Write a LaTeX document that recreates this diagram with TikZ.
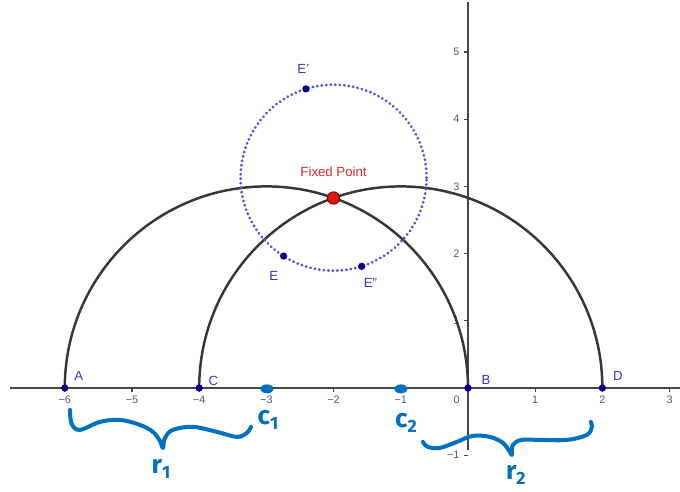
\documentclass[tikz,border=0pt]{standalone}
\usepackage{fontspec}
\usetikzlibrary{calc}
\setmainfont{Liberation Sans}
\newfontfamily\handfont{Fira Sans}
\definecolor{axisgray}{RGB}{70,70,70}
\definecolor{tickgray}{RGB}{90,90,90}
\definecolor{arcgray}{RGB}{55,55,55}
\definecolor{ptblue}{RGB}{0,0,140}
\definecolor{lblblue}{RGB}{55,55,185}
\definecolor{dotblue}{RGB}{80,80,215}
\definecolor{fixred}{RGB}{225,20,20}
\definecolor{fixedge}{RGB}{120,0,0}
\definecolor{lblred}{RGB}{215,40,40}
\definecolor{handblue}{RGB}{0,112,192}
\newcommand{\hw}[2]{{\handfont\bfseries #1\raisebox{-0.35ex}{\fontsize{7.5}{8}\selectfont #2}}}
\begin{document}
\begin{tikzpicture}[x=1cm,y=1cm,
  axisline/.style={draw=axisgray,line width=0.5pt},
  tick/.style={draw=axisgray,line width=0.45pt},
  ticklbl/.style={text=tickgray,font=\fontsize{4.6}{5}\selectfont,inner sep=0pt},
  arcline/.style={draw=arcgray,line width=1.05pt},
  pt/.style={circle,fill=ptblue,inner sep=0pt,minimum size=3.1pt},
  ptlbl/.style={text=lblblue,font=\fontsize{5.6}{6}\selectfont,inner sep=0pt},
  dotcircle/.style={draw=dotblue,line width=1.3pt,line cap=round,dash pattern=on 0.01pt off 1.9pt},
  handline/.style={draw=handblue,line width=1.7pt,line cap=round,line join=round},
  handtxt/.style={text=handblue,inner sep=0pt,font=\fontsize{11}{12}\selectfont}]
\useasboundingbox (-6.964,-1.533) rectangle (3.155,5.774);
% axes
\draw[axisline] (-6.82,0) -- (3.155,0);
\draw[axisline] (0,-0.925) -- (0,5.75);
\foreach \x in {-6,...,-1,1,2,3}{
  \draw[tick] (\x,0) -- (\x,-0.06);
}
\foreach \x/\t in {-6/−6,-5/−5,-4/−4,-3/−3,-2/−2,-1/−1,1/1,2/2,3/3}{
  \node[ticklbl] (tx\x) at (\x,-0.18) {\t};
}
\node[ticklbl] (t0) at (-0.17,-0.18) {0};
\foreach \y in {-1,1,2,3,4,5}{
  \draw[tick] (0,\y) -- (-0.06,\y);
}
\foreach \y/\t in {-1/−1,1/1,2/2,3/3,4/4,5/5}{
  \node[ticklbl,anchor=east] (ty\y) at (-0.12,\y) {\t};
}
% semicircles
\draw[arcline] (-6,0) arc (180:0:3);
\draw[arcline] (-4,0) arc (180:0:3);
% dotted circle
\draw[dotcircle] (-2,3.13) circle (1.384);
% points
\node[pt] (A) at (-6,0) {};
\node[pt] (C) at (-4,0) {};
\node[pt] (B) at (0,0) {};
\node[pt] (D) at (2,0) {};
\node[pt] (E) at ($(-2,3.13)+(237.5:1.384)$) {};
\node[pt] (Ep) at ($(-2,3.13)+(107.3:1.384)$) {};
\node[pt] (Epp) at ($(-2,3.13)+(287.6:1.384)$) {};
\node[circle,fill=fixred,draw=fixedge,line width=0.4pt,inner sep=0pt,minimum size=5.2pt] (F) at (-2,2.828) {};
% labels
\node[ptlbl] (lA) at (-5.79,0.18) {A};
\node[ptlbl] (lC) at (-3.79,0.10) {C};
\node[ptlbl] (lB) at (0.27,0.12) {B};
\node[ptlbl] (lD) at (2.23,0.18) {D};
\node[ptlbl] (lE) at (-2.89,1.67) {E};
\node[ptlbl] (lEp) at (-2.45,4.75) {E'};
\node[ptlbl] (lEpp) at (-1.45,1.57) {E''};
\node[ptlbl,text=lblred] (lF) at (-2.0,3.22) {Fixed Point};
% hand-drawn annotations (pixel coordinates)
\begin{scope}[shift={(-6.964cm,5.774cm)},x=0.014881cm,y=-0.014881cm]
\fill[handblue] (267,389) ellipse (6.5 and 4.5);
\fill[handblue] (401,389) ellipse (6.5 and 4.5);
\draw[handline] plot[smooth,tension=0.6] coordinates {(70,410) (71.7,424) (80,430) (100,422) (120,420) (140,425) (153,432) (160,441) (163,448) (165,438) (173,430) (193,427) (217,432) (237,437) (247,433) (251,427)};
\draw[handline] plot[smooth,tension=0.6] coordinates {(423,442) (428,447) (440,448) (457,442) (473,436) (490,437) (503,443) (510,452) (512,455) (513,445) (522,440) (540,440) (567,440) (587,435) (592,427) (591,422)};
\node[handtxt] (c1) at (268,420) {\hw{c}{1}};
\node[handtxt] (c2) at (406,423) {\hw{c}{2}};
\node[handtxt] (r1) at (161,469) {\hw{r}{1}};
\node[handtxt] (r2) at (516,475) {\hw{r}{2}};
\end{scope}
\end{tikzpicture}
\end{document}
